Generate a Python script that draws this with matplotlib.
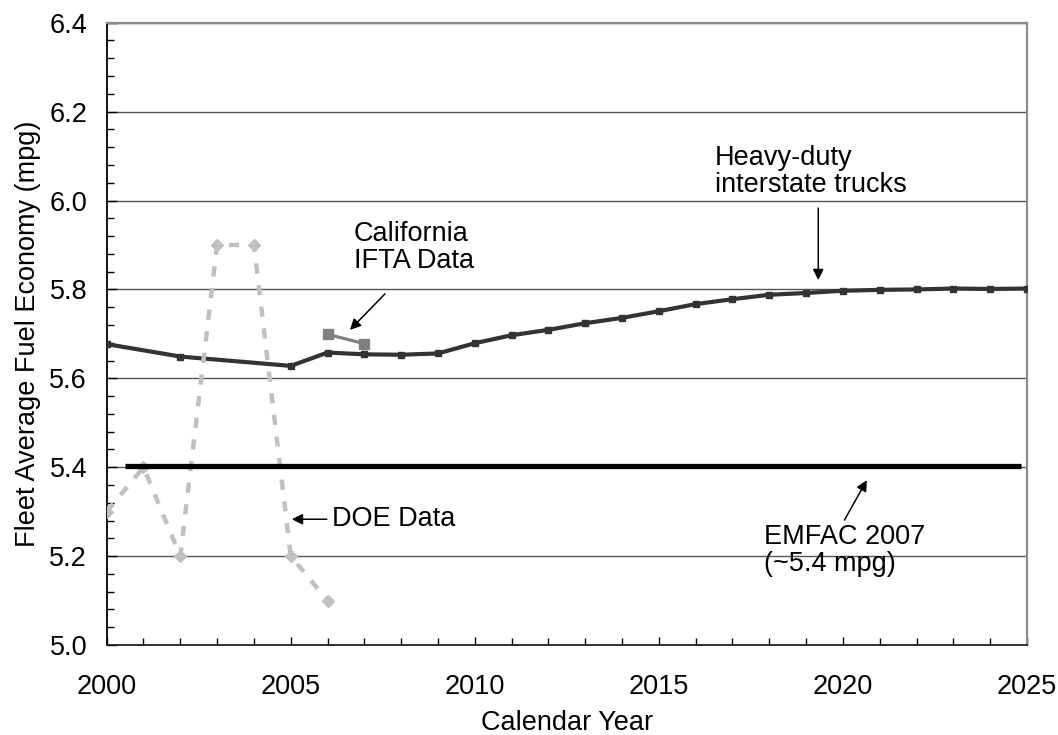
#!/usr/bin/env python3
import matplotlib
matplotlib.use('Agg')
import matplotlib.pyplot as plt
from matplotlib.ticker import MultipleLocator

plt.rcParams['font.family'] = ['Liberation Sans', 'DejaVu Sans']

# Heavy-duty interstate trucks (fleet average, mpg)
hd_years = [2000, 2002, 2005, 2006, 2007, 2008, 2009, 2010, 2011, 2012, 2013,
            2014, 2015, 2016, 2017, 2018, 2019, 2020, 2021, 2022, 2023, 2024, 2025]
hd_mpg = [5.677, 5.649, 5.628, 5.658, 5.654, 5.653, 5.656, 5.679, 5.697, 5.709, 5.724,
          5.736, 5.751, 5.767, 5.778, 5.788, 5.792, 5.797, 5.799, 5.800, 5.802, 5.801, 5.802]

# California IFTA data
ifta_years = [2006, 2007]
ifta_mpg = [5.699, 5.678]

# DOE data
doe_years = [2000, 2001, 2002, 2003, 2004, 2005, 2006]
doe_mpg = [5.3, 5.4, 5.2, 5.9, 5.9, 5.2, 5.1]

# EMFAC 2007 flat assumption
emfac_years = [2000.5, 2024.85]
emfac_mpg = [5.403, 5.403]

FS = 19.5

fig = plt.figure(figsize=(10.58, 7.35), dpi=100)
ax = fig.add_axes([0.1008, 0.1224, 0.8699, 0.8467])

ax.plot(hd_years, hd_mpg, color='#333333', lw=3, marker='s', ms=4,
        mec='#333333', mfc='#333333', zorder=3)
ax.plot(doe_years, doe_mpg, color='#c0c0c0', lw=3.2, dashes=(2.3, 2.6),
        dash_capstyle='butt', marker='D', ms=6, mec='#c0c0c0', mfc='#c0c0c0', zorder=4)
ax.plot(emfac_years, emfac_mpg, color='black', lw=3.8, solid_capstyle='butt', zorder=5)
ax.plot(ifta_years, ifta_mpg, color='#808080', lw=2.3, marker='s', ms=7,
        mec='#808080', mfc='#808080', zorder=6)

ax.set_xlim(2000, 2025)
ax.set_ylim(5.0, 6.4)
ax.xaxis.set_major_locator(MultipleLocator(5))
ax.xaxis.set_minor_locator(MultipleLocator(1))
ax.yaxis.set_major_locator(MultipleLocator(0.2))
ax.yaxis.set_minor_locator(MultipleLocator(0.04))
ax.yaxis.set_major_formatter(lambda v, p: f'{v:.1f}')

ax.grid(axis='y', which='major', color='#555555', lw=1.0, zorder=1)
ax.tick_params(axis='both', which='both', direction='in', labelsize=FS, color='black')
ax.tick_params(axis='x', which='major', length=6, width=1, pad=21)
ax.tick_params(axis='x', which='minor', length=5, width=1)
ax.tick_params(axis='y', which='major', length=7, width=1, pad=14)
ax.tick_params(axis='y', which='minor', length=5, width=1)

ax.spines['left'].set_color('black')
ax.spines['bottom'].set_color('#222222')
ax.spines['left'].set_linewidth(1.3)
ax.spines['bottom'].set_linewidth(1.3)
ax.spines['top'].set_color('#8c8c8c')
ax.spines['right'].set_color('#8c8c8c')
ax.spines['top'].set_linewidth(1.6)
ax.spines['right'].set_linewidth(1.6)

ax.set_xlabel('Calendar Year', fontsize=FS, labelpad=7)
ax.set_ylabel('Fleet Average Fuel Economy (mpg)', fontsize=FS, labelpad=6)

arrow = dict(arrowstyle='-|>', color='black', lw=1.1, mutation_scale=16,
             shrinkA=0, shrinkB=0)

ax.annotate('', xy=(2019.33, 5.821), xytext=(2019.33, 5.983), arrowprops=arrow)
ax.text(2016.52, 6.065, 'Heavy-duty\ninterstate trucks', fontsize=FS,
        ha='left', va='center', linespacing=1.05)

ax.annotate('', xy=(2006.61, 5.709), xytext=(2007.56, 5.790), arrowprops=arrow)
ax.text(2006.72, 5.894, 'California\nIFTA Data', fontsize=FS,
        ha='left', va='center', linespacing=1.05)

ax.annotate('', xy=(2005.03, 5.283), xytext=(2005.98, 5.283), arrowprops=arrow)
ax.text(2006.11, 5.283, 'DOE Data', fontsize=FS, ha='left', va='center')

ax.annotate('', xy=(2020.65, 5.371), xytext=(2020.04, 5.281), arrowprops=arrow)
ax.text(2017.86, 5.212, 'EMFAC 2007\n(~5.4 mpg)', fontsize=FS,
        ha='left', va='center', linespacing=1.05)

plt.savefig('out.png', dpi=100)
